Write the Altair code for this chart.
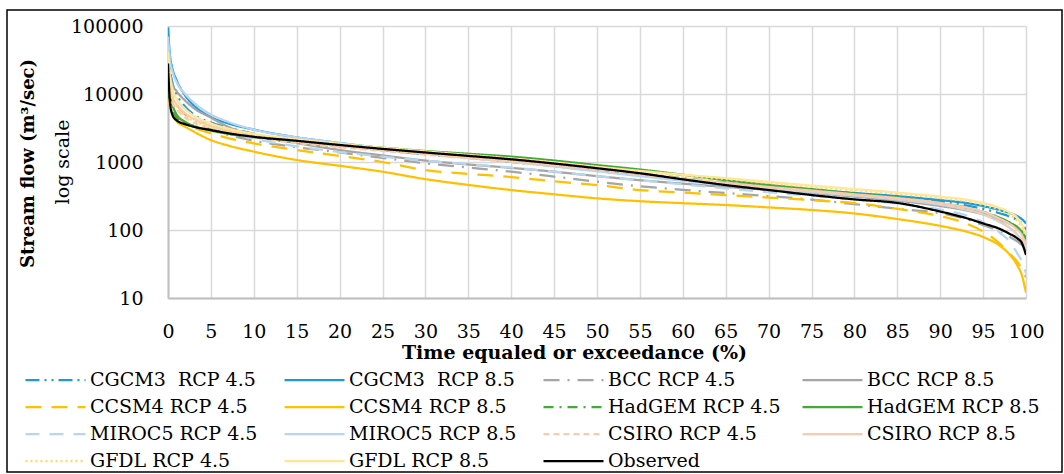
import altair as alt
import pandas as pd

# ---------------- data ----------------
x_pct = [0, 0.2, 0.5, 1, 2, 3, 5, 7, 10, 15, 20, 25, 30, 35, 40, 45, 50, 55, 60,
         65, 70, 75, 80, 85, 90, 93, 95, 97, 98, 99, 99.5, 100]

series_names = [
    "CGCM3\u00a0 RCP 4.5", "CGCM3\u00a0 RCP 8.5", "BCC RCP 4.5", "BCC RCP 8.5",
    "CCSM4 RCP 4.5", "CCSM4 RCP 8.5", "HadGEM RCP 4.5", "HadGEM RCP 8.5",
    "MIROC5 RCP 4.5", "MIROC5 RCP 8.5", "CSIRO RCP 4.5", "CSIRO RCP 8.5",
    "GFDL RCP 4.5", "GFDL RCP 8.5", "Observed",
]

cgcm3_45 = [60000, 25000, 15000, 10000, 6500, 5000, 3800, 3200, 2600, 2100, 1750, 1500, 1300, 1150, 1000, 870, 740, 640, 550, 480, 430, 380, 340, 300, 260, 230, 205, 175, 160, 140, 125, 100]
cgcm3_85 = [95000, 40000, 24000, 16000, 9500, 6800, 4600, 3700, 3000, 2300, 1900, 1600, 1380, 1200, 1050, 900, 760, 650, 560, 490, 440, 390, 350, 315, 275, 250, 225, 195, 180, 160, 145, 125]
bcc_45 = [20000, 12000, 9000, 7000, 5000, 4000, 3000, 2500, 2050, 1650, 1380, 1150, 955, 830, 720, 610, 513, 440, 390, 350, 316, 280, 240, 205, 176, 145, 118, 95, 80, 68, 60, 50]
bcc_85 = [30000, 20000, 14000, 11000, 8000, 6200, 4500, 3300, 2500, 1900, 1500, 1250, 1050, 920, 820, 720, 620, 540, 480, 430, 390, 350, 310, 270, 225, 195, 170, 140, 125, 105, 90, 70]
ccsm4_45 = [12000, 8000, 6000, 4800, 3800, 3200, 2650, 2250, 1880, 1500, 1230, 1000, 760, 670, 600, 520, 458, 387, 355, 327, 300, 275, 248, 205, 160, 125, 95, 62, 46, 34, 27, 20]
ccsm4_85 = [10000, 7000, 5000, 4000, 3300, 2800, 2100, 1750, 1420, 1070, 880, 720, 560, 460, 387, 335, 292, 265, 248, 233, 215, 197, 175, 145, 115, 95, 79, 58, 45, 30, 22, 12]
hadgem_45 = [12000, 8000, 6000, 4500, 3700, 3300, 3000, 2600, 2300, 1950, 1700, 1500, 1330, 1180, 1050, 920, 790, 680, 580, 500, 440, 385, 340, 295, 250, 215, 185, 150, 130, 110, 95, 75]
hadgem_85 = [15000, 10000, 7000, 5000, 3900, 3400, 2900, 2600, 2300, 2050, 1800, 1620, 1450, 1320, 1200, 1050, 900, 775, 650, 540, 460, 400, 345, 300, 245, 210, 180, 150, 130, 110, 95, 75]
miroc5_45 = [40000, 20000, 12000, 8500, 6000, 4800, 3500, 2800, 2200, 1700, 1400, 1200, 1050, 930, 830, 720, 620, 540, 470, 410, 360, 320, 280, 245, 200, 165, 130, 90, 70, 45, 35, 23]
miroc5_85 = [70000, 35000, 22000, 15000, 10000, 7500, 5000, 3900, 3000, 2300, 1900, 1580, 1350, 1150, 1000, 860, 730, 620, 530, 460, 405, 360, 320, 280, 235, 200, 170, 130, 110, 85, 70, 50]
csiro_45 = [15000, 10000, 7500, 6000, 4500, 3800, 3100, 2700, 2300, 1900, 1650, 1450, 1280, 1130, 1000, 880, 760, 650, 560, 480, 420, 370, 325, 285, 240, 200, 170, 130, 110, 85, 70, 50]
csiro_85 = [18000, 12000, 9000, 7000, 5200, 4300, 3400, 2900, 2450, 2000, 1720, 1500, 1320, 1170, 1040, 910, 790, 670, 575, 495, 430, 380, 335, 295, 250, 215, 185, 145, 125, 100, 85, 60]
gfdl_45 = [30000, 15000, 9000, 6500, 4800, 4000, 3300, 2900, 2500, 2050, 1780, 1560, 1380, 1230, 1090, 960, 830, 720, 630, 560, 490, 430, 385, 340, 295, 265, 235, 195, 170, 135, 110, 80]
gfdl_85 = [42000, 20000, 12000, 8500, 6000, 4800, 3700, 3100, 2600, 2150, 1850, 1620, 1430, 1270, 1130, 990, 850, 740, 650, 580, 510, 450, 400, 355, 310, 280, 250, 210, 185, 150, 120, 89]
observed = [28000, 8500, 5000, 4100, 3600, 3300, 2950, 2650, 2350, 2050, 1780, 1560, 1380, 1230, 1095, 950, 810, 683, 556, 458, 387, 327, 282, 250, 187, 150, 125, 103, 89, 75, 65, 43]

all_series = [cgcm3_45, cgcm3_85, bcc_45, bcc_85, ccsm4_45, ccsm4_85,
              hadgem_45, hadgem_85, miroc5_45, miroc5_85, csiro_45, csiro_85,
              gfdl_45, gfdl_85, observed]

colors = ["#1f9ad8", "#1f9ad8", "#a5a5a5", "#a5a5a5", "#ffc000", "#ffc000",
          "#44a83a", "#44a83a", "#b7d6ef", "#b7d6ef", "#f8cbad", "#f8cbad",
          "#ffd966", "#ffe699", "#000000"]
dashes = [[14, 5, 2, 5, 2, 5], [1, 0], [16, 8, 2, 8], [1, 0],
          [16, 10], [1, 0], [10, 6, 2, 6], [1, 0],
          [14, 10], [1, 0], [6, 4], [1, 0],
          [2, 3], [1, 0], [1, 0]]
widths = [2.25] * 14 + [2.75]

y_ticks = [10, 100, 1000, 10000, 100000]
x_ticks = list(range(0, 101, 5))

rows = []
for name, vals in zip(series_names, all_series):
    for xv, yv in zip(x_pct, vals):
        rows.append({"series": name, "x": xv, "flow": yv})
df = pd.DataFrame(rows)

FONT = "DejaVu Serif"
W, H = 858, 272

lines = alt.Chart(df).mark_line(interpolate="monotone", clip=True).encode(
    x=alt.X("x:Q", scale=alt.Scale(domain=[0, 100], nice=False),
            axis=alt.Axis(values=x_ticks, title="Time equaled or exceedance (%)",
                          titleX=406, titleY=54, titleBaseline="middle",
                          labelPadding=33, labelBaseline="middle", ticks=False,
                          tickSize=0, labelOverlap=False, labelFlush=False)),
    y=alt.Y("flow:Q", scale=alt.Scale(type="log", domain=[10, 100000], nice=False),
            axis=alt.Axis(values=y_ticks, format="d", title="Stream flow (m³/sec)",
                          titleX=-140, titleY=137, titleBaseline="middle",
                          titleAngle=270, titleAlign="center", titleFontSize=18,
                          labelPadding=25, ticks=False, tickSize=0,
                          labelOverlap=False, labelFlush=False)),
    color=alt.Color("series:N", scale=alt.Scale(domain=series_names, range=colors),
                    sort=series_names, title=None,
                    legend=alt.Legend(orient="none", legendX=-144, legendY=344,
                                      columns=4, direction="horizontal",
                                      symbolType="stroke", symbolSize=3600,
                                      clipHeight=20,
                                      labelFont=FONT, labelFontSize=19,
                                      labelColor="black", labelLimit=400,
                                      labelOffset=3, columnPadding=20,
                                      rowPadding=7, gridAlign="all", padding=0)),
    strokeDash=alt.StrokeDash("series:N", scale=alt.Scale(domain=series_names, range=dashes),
                              sort=series_names, title=None),
    strokeWidth=alt.StrokeWidth("series:N", scale=alt.Scale(domain=series_names, range=widths),
                                sort=series_names, title=None),
    order=alt.Order("x:Q"),
)

side_title = alt.Chart(pd.DataFrame({"t": ["log scale"]})).mark_text(
    angle=270, font=FONT, fontSize=19, color="black", align="center", baseline="middle"
).encode(text="t:N", x=alt.value(-105), y=alt.value(H / 2))

frame = alt.Chart(pd.DataFrame({"a": [0]})).mark_rect(
    fill="transparent", stroke="black", strokeWidth=1.5, clip=False
).encode(x=alt.value(-161), x2=alt.value(894), y=alt.value(-16), y2=alt.value(446))

chart = alt.layer(lines, side_title, frame).properties(
    width=W, height=H,
    background="white",
    autosize=alt.AutoSizeParams(type="none"),
    padding={"left": 168, "top": 26, "right": 38, "bottom": 176},
).configure_view(stroke=None).configure_axis(
    labelFont=FONT, labelFontSize=19, labelColor="black",
    titleFont=FONT, titleFontSize=19, titleFontWeight="bold", titleColor="black",
    gridColor="#d9d9d9", gridWidth=1.5, domainColor="#bfbfbf", domainWidth=2,
)

chart.save("out.html", embed_options={"renderer": "svg", "actions": False})
